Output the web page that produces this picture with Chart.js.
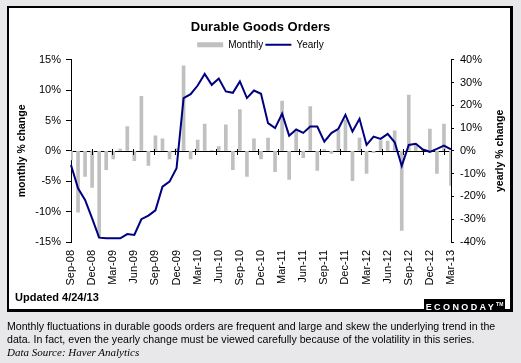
<!DOCTYPE html>
<html>
<head>
<meta charset="utf-8">
<title>Durable Goods Orders</title>
<script src="https://cdn.jsdelivr.net/npm/chart.js@4.4.0/dist/chart.umd.min.js"></script>
<style>
    body {
        margin: 0;
        background: #e8e8ea;
        font-family: "Liberation Sans", Arial, sans-serif;
    }
    #wrap {
        position: relative;
        width: 521px;
        height: 363px;
        overflow: hidden;
    }
    #panel {
        position: absolute;
        left: 7px;
        top: 6px;
        width: 506px;
        height: 306px;
        box-sizing: border-box;
        background: #fff;
        border: solid #000;
        border-width: 2px 3px 3px 2px;
    }
    #chart {
        position: absolute;
        left: 0;
        top: 0;
    }
    #updated {
        position: absolute;
        left: 15px;
        top: 291px;
        font-weight: bold;
        font-size: 11px;
        line-height: 13px;
    }
    #logo {
        position: absolute;
        left: 424px;
        top: 299px;
        width: 81px;
        height: 10px;
        background: #000;
        color: #fff;
        font-weight: bold;
        font-size: 9px;
        line-height: 10px;
        letter-spacing: 2.4px;
        text-align: center;
        white-space: nowrap;
    }
    #logo sup {
        font-size: 5px;
        letter-spacing: 0;
    }
    #note {
        position: absolute;
        left: 7px;
        top: 320px;
        font-size: 10.6px;
        line-height: 13px;
        white-space: nowrap;
        color: #000;
    }
    #note i {
        font-family: "Liberation Serif", "Times New Roman", serif;
        font-size: 11px;
    }
</style>
</head>
<body>
<div id="wrap">
    <div id="panel"></div>
    <canvas id="chart" width="521" height="363"></canvas>
    <div id="updated">Updated 4/24/13</div>
    <div id="logo">ECONODAY<sup>TM</sup></div>
    <div id="note">Monthly fluctuations in durable goods orders are frequent and large and skew the underlying trend in the<br>data. In fact, even the yearly change must be viewed carefully because of the volatility in this series.<br><i>Data Source: Haver Analytics</i></div>
</div>
<script>
    const months = [
        'Sep-08', 'Oct-08', 'Nov-08', 'Dec-08', 'Jan-09', 'Feb-09', 'Mar-09', 'Apr-09', 'May-09', 'Jun-09',
        'Jul-09', 'Aug-09', 'Sep-09', 'Oct-09', 'Nov-09', 'Dec-09', 'Jan-10', 'Feb-10', 'Mar-10', 'Apr-10',
        'May-10', 'Jun-10', 'Jul-10', 'Aug-10', 'Sep-10', 'Oct-10', 'Nov-10', 'Dec-10', 'Jan-11', 'Feb-11',
        'Mar-11', 'Apr-11', 'May-11', 'Jun-11', 'Jul-11', 'Aug-11', 'Sep-11', 'Oct-11', 'Nov-11', 'Dec-11',
        'Jan-12', 'Feb-12', 'Mar-12', 'Apr-12', 'May-12', 'Jun-12', 'Jul-12', 'Aug-12', 'Sep-12', 'Oct-12',
        'Nov-12', 'Dec-12', 'Jan-13', 'Feb-13', 'Mar-13'
    ];

    // monthly % change (left axis)
    const monthly = [
        -1.5, -10.1, -4.2, -6.0, -14.2, -3.1, -1.3, 0.3, 4.0, -1.6,
        9.0, -2.4, 2.5, 2.0, -1.3, 0.4, 14.0, -1.3, 1.8, 4.4,
        0.1, 0.7, 4.3, -3.1, 6.8, -4.2, 2.0, -1.3, 2.1, -3.4,
        8.2, -4.7, 3.2, -1.1, 7.3, -3.2, 0.2, -0.4, 3.4, 5.1,
        -4.9, 2.1, -3.7, -0.3, 1.7, 1.6, 3.3, -13.1, 9.2, 1.0,
        0.2, 3.6, -3.7, 4.4, -5.7
    ];

    // yearly % change (right axis)
    const yearly = [
        -6.2, -16.4, -21.5, -29.6, -38.1, -38.4, -38.4, -38.4, -36.5, -36.9,
        -30.0, -28.4, -26.1, -15.7, -13.5, -7.6, 23.2, 24.9, 28.7, 33.8,
        29.0, 31.8, 26.1, 25.5, 30.5, 23.2, 26.5, 25.1, 12.2, 10.0,
        16.3, 6.7, 9.4, 7.9, 10.7, 10.7, 4.1, 7.8, 9.7, 15.8,
        8.5, 14.1, 2.6, 6.3, 5.3, 7.5, 3.8, -6.6, 2.6, 3.1,
        0.6, -0.4, 0.9, 2.3, 0.7
    ];

    const FONT = '"Liberation Sans", Arial, sans-serif';
    Chart.defaults.font.family = FONT;
    Chart.defaults.color = '#000';

    // zero line, its tick marks and the two axis titles
    const extras = {
        id: 'extras',
        beforeDatasetsDraw(chart) {
            const {ctx, chartArea, scales} = chart;
            const y0 = Math.round(scales.y.getPixelForValue(0)) + 0.5;
            ctx.save();
            ctx.strokeStyle = '#000';
            ctx.lineWidth = 1;
            ctx.beginPath();
            ctx.moveTo(chartArea.left, y0);
            ctx.lineTo(chartArea.right, y0);
            ctx.stroke();
            ctx.restore();
        },
        afterDraw(chart) {
            const {ctx, chartArea, scales} = chart;
            const y0 = Math.round(scales.y.getPixelForValue(0)) + 0.5;
            ctx.save();
            ctx.strokeStyle = '#000';
            ctx.lineWidth = 1;
            const step = (chartArea.right - chartArea.left) * 3 / months.length;
            for (let k = 1; k * 3 < months.length; k++) {
                const x = Math.round(chartArea.left + k * step) + 0.5;
                ctx.beginPath();
                ctx.moveTo(x, y0 - 2.5);
                ctx.lineTo(x, y0 + 3.5);
                ctx.stroke();
            }

            ctx.fillStyle = '#000';
            ctx.font = 'bold 10.5px ' + FONT;
            ctx.textAlign = 'center';
            ctx.textBaseline = 'middle';
            const midY = (chartArea.top + chartArea.bottom) / 2;
            [[22.5, 'monthly % change'], [500, 'yearly % change']].forEach(([x, text]) => {
                ctx.save();
                ctx.translate(x, midY);
                ctx.rotate(-Math.PI / 2);
                ctx.fillText(text, 0, 0);
                ctx.restore();
            });
            ctx.restore();
        }
    };

    new Chart(document.getElementById('chart'), {
        type: 'bar',
        data: {
            labels: months,
            datasets: [{
                type: 'bar',
                label: 'Monthly',
                data: monthly,
                backgroundColor: '#c0c0c0',
                borderWidth: 0,
                barThickness: 3,
                yAxisID: 'y',
                order: 1
            }, {
                type: 'line',
                label: 'Yearly',
                data: yearly,
                borderColor: '#000080',
                backgroundColor: '#000080',
                borderWidth: 2,
                pointRadius: 0,
                tension: 0,
                yAxisID: 'y1',
                order: 0
            }]
        },
        options: {
            responsive: false,
            animation: false,
            devicePixelRatio: 1,
            layout: {padding: 0},
            plugins: {
                title: {
                    display: true,
                    text: 'Durable Goods Orders',
                    color: '#000',
                    font: {size: 13, weight: 'bold'},
                    padding: {top: 20, bottom: 2}
                },
                legend: {
                    display: true,
                    labels: {
                        usePointStyle: true,
                        pointStyleWidth: 26,
                        boxHeight: 5,
                        padding: 2.2,
                        color: '#000',
                        font: {size: 10},
                        sort: (a, b) => a.datasetIndex - b.datasetIndex,
                        generateLabels(chart) {
                            const items = Chart.defaults.plugins.legend.labels.generateLabels(chart);
                            items.forEach(item => {
                                if (item.datasetIndex === 0) {
                                    item.pointStyle = 'rect';
                                    item.lineWidth = 0;
                                } else {
                                    item.pointStyle = 'line';
                                    item.lineWidth = 2;
                                }
                            });
                            return items;
                        }
                    }
                },
                tooltip: {enabled: false}
            },
            scales: {
                x: {
                    type: 'category',
                    offset: false,
                    grid: {display: false, drawTicks: false},
                    border: {display: false},
                    ticks: {
                        autoSkip: false,
                        minRotation: 90,
                        maxRotation: 90,
                        padding: 8,
                        font: {size: 11},
                        callback(value, index) {
                            return index % 3 === 0 ? months[index] : '';
                        }
                    },
                    afterFit(scale) {
                        scale.height = 121;
                    }
                },
                y: {
                    position: 'left',
                    min: -15,
                    max: 15,
                    ticks: {
                        stepSize: 5,
                        padding: 5,
                        font: {size: 11},
                        callback: v => v + '%'
                    },
                    grid: {
                        drawOnChartArea: false,
                        tickColor: '#000',
                        tickLength: 5
                    },
                    border: {display: true, color: '#000'},
                    afterFit(scale) {
                        scale.width = 71;
                    }
                },
                y1: {
                    position: 'right',
                    min: -40,
                    max: 40,
                    ticks: {
                        stepSize: 10,
                        padding: 6,
                        font: {size: 11},
                        callback: v => v + '%'
                    },
                    grid: {
                        drawOnChartArea: false,
                        tickColor: '#000',
                        tickLength: 3
                    },
                    border: {display: true, color: '#000'},
                    afterFit(scale) {
                        scale.width = 70;
                    }
                }
            }
        },
        plugins: [extras]
    });
</script>
</body>
</html>
